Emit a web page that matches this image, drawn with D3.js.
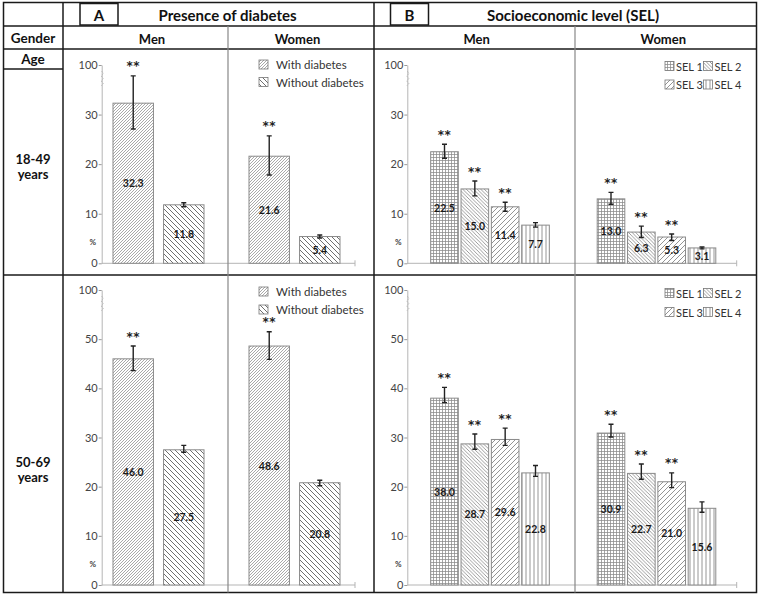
<!DOCTYPE html>
<html><head><meta charset="utf-8">
<script src="https://cdn.jsdelivr.net/npm/d3@7"></script>
<style>html,body{margin:0;padding:0;background:#fff;} svg{display:block;font-family:Lato,"Open Sans",sans-serif;}</style>
</head><body><svg id="c" width="760" height="597"></svg>
<script>
// ---------- DATA ----------
const ageGroups = ["18-49", "50-69"];
const genders = ["Men", "Women"];
const diabetesSeries = ["With diabetes", "Without diabetes"];
const selSeries = ["SEL 1", "SEL 2", "SEL 3", "SEL 4"];
// [age][gender][series]
const diabetesValues = [[[32.3, 11.8], [21.6, 5.4]], [[46.0, 27.5], [48.6, 20.8]]];
const diabetesLow    = [[[27.1, 11.4], [17.8, 5.1]], [[43.6, 27.0], [45.9, 20.2]]];
const diabetesHigh   = [[[37.8, 12.2], [25.7, 5.7]], [[48.6, 28.4], [51.5, 21.3]]];
const diabetesSig    = [[[1, 0], [1, 0]], [[1, 0], [1, 0]]];
const selValues = [[[22.5, 15.0, 11.4, 7.7], [13.0, 6.3, 5.3, 3.1]], [[38.0, 28.7, 29.6, 22.8], [30.9, 22.7, 21.0, 15.6]]];
const selLow    = [[[21.2, 13.6, 10.5, 7.3], [11.9, 5.2, 4.6, 2.9]], [[37.1, 27.6, 28.4, 22.1], [30.1, 21.5, 19.8, 14.8]]];
const selHigh   = [[[24.0, 16.6, 12.3, 8.2], [14.3, 7.5, 5.9, 3.3]], [[40.2, 30.7, 31.9, 24.3], [32.7, 24.6, 22.8, 16.9]]];
const selSig    = [[[1, 1, 1, 0], [1, 1, 1, 0]], [[1, 1, 1, 0], [1, 1, 1, 0]]];
const tickValues = [[0, 10, 20, 30, 40], [0, 10, 20, 30, 40, 50, 60]];
const tickLabels = [["0", "10", "20", "30", "100"], ["0", "10", "20", "30", "40", "50", "100"]];

// ---------- PATTERNS ----------
const svg = d3.select("#c");
const defs = svg.append("defs");
function diagPattern(id, s, dir, color, w) {
  const p = defs.append("pattern").attr("id", id).attr("patternUnits", "userSpaceOnUse").attr("width", s).attr("height", s);
  p.append("rect").attr("width", s).attr("height", s).attr("fill", "#fff");
  const h = s / 2;
  const d = dir === "/"
    ? `M0,${s}L${s},0M${-h},${h}L${h},${-h}M${h},${s + h}L${s + h},${h}`
    : `M0,0L${s},${s}M${-h},${h}L${h},${s + h}M${h},${-h}L${s + h},${h}`;
  p.append("path").attr("d", d).attr("stroke", color).attr("stroke-width", w).attr("fill", "none");
}
diagPattern("pWith", 3, "/", "#8c8c8c", 0.75);
diagPattern("pWithout", 5, "\\", "#555", 0.85);
diagPattern("pS2", 3.6, "\\", "#7a7a7a", 0.75);
diagPattern("pS3", 5, "/", "#7a7a7a", 0.8);
(function(){
  let p = defs.append("pattern").attr("id", "pS1").attr("patternUnits", "userSpaceOnUse").attr("width", 3).attr("height", 3);
  p.append("rect").attr("width", 3).attr("height", 3).attr("fill", "#fff");
  p.append("path").attr("d", "M1.5,0V3M0,1.5H3").attr("stroke", "#8a8a8a").attr("stroke-width", 0.75);
  p = defs.append("pattern").attr("id", "pS4").attr("patternUnits", "userSpaceOnUse").attr("width", 4).attr("height", 4);
  p.append("rect").attr("width", 4).attr("height", 4).attr("fill", "#fff");
  p.append("path").attr("d", "M2,0V4").attr("stroke", "#7a7a7a").attr("stroke-width", 0.8);
})();
const diabetesFill = ["url(#pWith)", "url(#pWithout)"];
const selFill = ["url(#pS1)", "url(#pS2)", "url(#pS3)", "url(#pS4)"];

// ---------- LAYOUT ----------
const rows = [
  {y0: 263.3, yTopPx: 65, legendY: [64.5, 82]},
  {y0: 585, yTopPx: 290, legendY: [291.5, 309.5]}
];
const panels = [
  {series: diabetesSeries, values: diabetesValues, low: diabetesLow, high: diabetesHigh, sig: diabetesSig, fill: diabetesFill,
   axisX: 101.7, endX: 355, groupRange: [90.5, 362.5], inner: 45.5, pad: 0.2},
  {series: selSeries, values: selValues, low: selLow, high: selHigh, sig: selSig, fill: selFill,
   axisX: 407.3, endX: 736.7, groupRange: [406.75, 739.75], inner: 59.3, pad: 0.09}
];

// ---------- CHARTS ----------
rows.forEach((row, ri) => {
  const tv = tickValues[ri];
  const y = d3.scaleLinear().domain([0, tv[tv.length - 1]]).range([row.y0, row.yTopPx]);
  panels.forEach((pn, pi) => {
    const g = svg.append("g");
    const x0 = d3.scaleBand().domain(genders).range(pn.groupRange).padding(0);
    const x1 = d3.scaleBand().domain(pn.series).range([-pn.inner, pn.inner]).paddingInner(pn.pad).paddingOuter(0);
    g.append("line").attr("x1", pn.axisX).attr("x2", pn.endX).attr("y1", row.y0).attr("y2", row.y0).attr("stroke", "#b5b5b5");
    g.append("line").attr("x1", pn.endX).attr("x2", pn.endX).attr("y1", row.y0 - 3).attr("y2", row.y0 + 3).attr("stroke", "#b5b5b5");
    const ax = g.append("g").attr("transform", `translate(${pn.axisX},0)`)
      .call(d3.axisLeft(y).tickValues(tv).tickFormat((d, i) => tickLabels[ri][i]).tickSize(3).tickSizeOuter(0));
    ax.select(".domain").attr("stroke", "#b5b5b5");
    ax.selectAll(".tick line").attr("stroke", "#999");
    ax.selectAll(".tick text").attr("fill", "#444").attr("font-size", 11).attr("font-family", "Lato, sans-serif").attr("x", -4);
    const yb = y(tv[tv.length - 1]) + 6, yb2 = yb + 15;
    let d = `M${pn.axisX},${yb}`;
    for (let k = 1; k <= 6; k++) d += `L${pn.axisX + (k % 2 ? 1.5 : -0.5)},${yb + k * (yb2 - yb) / 6}`;
    g.append("path").attr("d", d).attr("fill", "none").attr("stroke", "#bbb").attr("stroke-width", 1).attr("stroke-dasharray", "2,1");
    g.append("text").attr("x", pn.axisX - 9).attr("y", y(4.3)).attr("text-anchor", "middle").attr("dominant-baseline", "central")
      .attr("font-size", 8).attr("font-weight", "bold").attr("fill", "#444").text("%");
    genders.forEach((gd, gi) => {
      pn.series.forEach((s, si) => {
        const v = pn.values[ri][gi][si];
        const bx = x0(gd) + x0.bandwidth() / 2 + x1(s);
        const bw = x1.bandwidth();
        g.append("rect").attr("x", bx).attr("y", y(v)).attr("width", bw).attr("height", y(0) - y(v))
          .attr("fill", pn.fill[si]).attr("stroke", "#8a8a8a").attr("stroke-width", 1);
        g.append("text").attr("x", bx + bw / 2).attr("y", (y(v) + y(0)) / 2).attr("text-anchor", "middle")
          .attr("dominant-baseline", "central").attr("font-size", 10.5).attr("font-weight", "bold").attr("fill", "#1a1a1a")
          .text(v.toFixed(1));
        const cx = bx + bw / 2, lo = y(pn.low[ri][gi][si]), hi = y(pn.high[ri][gi][si]);
        g.append("path").attr("d", `M${cx},${lo}V${hi}M${cx - 2.5},${lo}H${cx + 2.5}M${cx - 2.5},${hi}H${cx + 2.5}`)
          .attr("stroke", "#222").attr("stroke-width", 1.4).attr("fill", "none");
        if (pn.sig[ri][gi][si]) {
          g.append("text").attr("x", cx).attr("y", hi - 5.5).attr("text-anchor", "middle")
            .attr("font-family", "'DejaVu Sans', sans-serif").attr("font-size", 12).attr("font-weight", "bold").attr("fill", "#222")
            .attr("letter-spacing", 0.5).text("**");
        }
      });
    });
  });
  // legends
  const la = svg.append("g");
  diabetesSeries.forEach((s, si) => {
    const ly = row.legendY[si];
    la.append("rect").attr("x", 259).attr("y", ly - 4.5).attr("width", 9).attr("height", 9).attr("fill", diabetesFill[si]).attr("stroke", "#777").attr("stroke-width", 0.8);
    la.append("text").attr("x", 276).attr("y", ly).attr("dominant-baseline", "central").attr("font-size", 11.5).attr("fill", "#333").text(s);
  });
  selSeries.forEach((s, si) => {
    const col = si % 2, rr = Math.floor(si / 2);
    const ly = row.legendY[rr] + 1.5 + rr * 1;
    const sx = col ? 703.5 : 665;
    la.append("rect").attr("x", sx).attr("y", ly - 4.5).attr("width", 9).attr("height", 9).attr("fill", selFill[si]).attr("stroke", "#777").attr("stroke-width", 0.8);
    la.append("text").attr("x", sx + 11).attr("y", ly).attr("dominant-baseline", "central").attr("font-size", 11).attr("fill", "#333").text(s);
  });
});

// ---------- TABLE FRAME ----------
const T = svg.append("g");
const dark = "#1a1a1a";
T.append("rect").attr("x", 3.5).attr("y", 2.5).attr("width", 753).attr("height", 590).attr("fill", "none").attr("stroke", dark).attr("stroke-width", 1.5);
[[63, 2.5, 63, 592.5], [374, 2.5, 374, 592.5], [3.5, 26, 756.5, 26], [3.5, 49, 756.5, 49], [3.5, 69, 63, 69], [3.5, 275, 756.5, 275]]
  .forEach(l => T.append("line").attr("x1", l[0]).attr("y1", l[1]).attr("x2", l[2]).attr("y2", l[3]).attr("stroke", dark).attr("stroke-width", 1.5));
[[228, 26, 228, 592.5], [575, 26, 575, 592.5]]
  .forEach(l => T.append("line").attr("x1", l[0]).attr("y1", l[1]).attr("x2", l[2]).attr("y2", l[3]).attr("stroke", "#888").attr("stroke-width", 1.2));
T.append("rect").attr("x", 80).attr("y", 3.5).attr("width", 38).attr("height", 21.5).attr("fill", "#fff").attr("stroke", dark).attr("stroke-width", 1.5);
T.append("rect").attr("x", 390.5).attr("y", 3.5).attr("width", 38).attr("height", 21.5).attr("fill", "#fff").attr("stroke", dark).attr("stroke-width", 1.5);
const txt = (x, y, s, size) => T.append("text").attr("x", x).attr("y", y).attr("text-anchor", "middle").attr("dominant-baseline", "central")
  .attr("font-size", size).attr("font-weight", "bold").attr("fill", "#111").text(s);
txt(99, 14.5, "A", 15);
txt(409.5, 14.5, "B", 15);
txt(227.5, 14.5, "Presence of diabetes", 15);
txt(573, 14.5, "Socioeconomic level (SEL)", 15);
txt(33, 38, "Gender", 13.5);
txt(33, 59, "Age", 13.5);
txt(152, 38.5, genders[0], 13);
txt(297.5, 38.5, genders[1], 13);
txt(476.7, 38.5, genders[0], 13);
txt(663.3, 38.5, genders[1], 13);
txt(33, 159, ageGroups[0], 13);
txt(33, 173.5, "years", 13);
txt(33, 462, ageGroups[1], 13);
txt(33, 477, "years", 13);
</script></body></html>
